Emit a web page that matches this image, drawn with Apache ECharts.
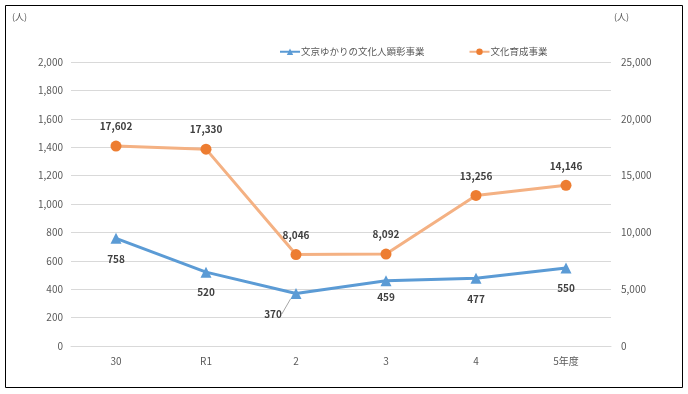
<!DOCTYPE html>
<html><head><meta charset="utf-8">
<script src="https://cdn.jsdelivr.net/npm/echarts@6/dist/echarts.min.js"></script>
<style>html,body{margin:0;padding:0;background:#fff}#c{width:688px;height:394px}</style>
</head><body><div id="c"></div>
<script>
const categories = ['30', 'R1', '2', '3', '4', '5年度'];
const seriesNames = ['文京ゆかりの文化人顕彰事業', '文化育成事業'];
const honorValues = [758, 520, 370, 459, 477, 550];
const cultureValues = [17602, 17330, 8046, 8092, 13256, 14146];
const leftTicks = {min: 0, max: 2000, interval: 200};
const rightTicks = {min: 0, max: 25000, interval: 5000};

const chart = echarts.init(document.getElementById('c'));
const font = '"Noto Sans CJK JP", "Liberation Sans", sans-serif';
chart.setOption({
  animation: false,
  textStyle: {fontFamily: font},
  graphic: [
    {type: 'rect', shape: {x: 5.5, y: 5.5, width: 677, height: 382}, style: {fill: 'none', stroke: '#000', lineWidth: 1}},
    {type: 'text', left: 12, top: 12, style: {text: '(人)', fill: '#595959', font: '9px ' + font}},
    {type: 'text', left: 614, top: 12, style: {text: '(人)', fill: '#595959', font: '9px ' + font}}
  ],
  legend: {
    top: 42, left: 274, itemGap: 44, itemWidth: 20, itemHeight: 8,
    textStyle: {fontSize: 9.5, color: '#595959', fontFamily: font, padding: [0, 0, 0, -4]},
    data: seriesNames
  },
  grid: {left: 71, right: 77, top: 62, bottom: 48},
  xAxis: {
    type: 'category', data: categories,
    axisLine: {show: true, lineStyle: {color: '#d9d9d9'}},
    axisTick: {show: false},
    axisLabel: {color: '#595959', fontSize: 10, margin: 10}
  },
  yAxis: [
    {type: 'value', min: leftTicks.min, max: leftTicks.max, interval: leftTicks.interval,
     axisLine: {show: false}, axisTick: {show: false},
     splitLine: {lineStyle: {color: '#d9d9d9'}},
     axisLabel: {color: '#595959', fontSize: 10, margin: 8, formatter: v => v.toLocaleString('en-US')}},
    {type: 'value', min: rightTicks.min, max: rightTicks.max, interval: rightTicks.interval,
     axisLine: {show: false}, axisTick: {show: false}, splitLine: {show: false},
     axisLabel: {color: '#595959', fontSize: 10, margin: 10, formatter: v => v.toLocaleString('en-US')}}
  ],
  series: [
    {
      name: seriesNames[0], type: 'line', yAxisIndex: 0,
      data: honorValues.map((v, i) => i === 2 ? {value: v, labelLine: {show: true}} : {value: v, labelLine: {show: false}}),
      symbol: 'triangle', symbolSize: 11,
      lineStyle: {color: '#5B9BD5', width: 3},
      itemStyle: {color: '#5B9BD5'},
      label: {show: true, position: 'bottom', distance: 10, fontWeight: 'bold', fontSize: 10, color: '#404040',
              formatter: p => p.value.toLocaleString('en-US')},
      labelLine: {show: false, lineStyle: {color: '#a6a6a6', width: 1}},
      labelLayout: p => p.dataIndex === 2 ? {dx: -23, dy: 0} : (p.dataIndex === 3 ? {dy: -4} : {}),
    },
    {
      name: seriesNames[1], type: 'line', yAxisIndex: 1, data: cultureValues,
      symbol: 'circle', symbolSize: 11,
      lineStyle: {color: '#F4B183', width: 3},
      itemStyle: {color: '#ED7D31'},
      label: {show: true, position: 'top', distance: 9, fontWeight: 'bold', fontSize: 10, color: '#404040',
              formatter: p => p.value.toLocaleString('en-US')}
    }
  ]
});
</script></body></html>
